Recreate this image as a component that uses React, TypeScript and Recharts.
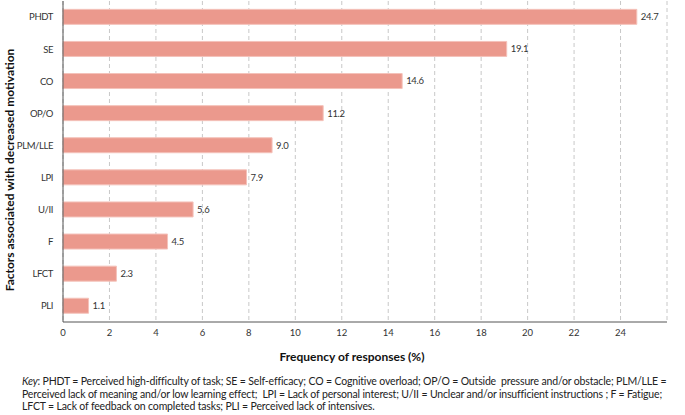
import { BarChart, Bar, XAxis, YAxis, CartesianGrid, LabelList } from 'recharts'

const factors = ['PHDT', 'SE', 'CO', 'OP/O', 'PLM/LLE', 'LPI', 'U/II', 'F', 'LFCT', 'PLI']
const frequencies = [24.7, 19.1, 14.6, 11.2, 9.0, 7.9, 5.6, 4.5, 2.3, 1.1]
const xTicks = [0, 2, 4, 6, 8, 10, 12, 14, 16, 18, 20, 22, 24]

const data = factors.map((factor, i) => ({ factor, value: frequencies[i] }))

const FONT = 'Lato, "Open Sans", sans-serif'

export default function App() {
  return (
    <div style={{ position: 'absolute', left: 0, top: 0, width: 685, height: 415, background: '#fff', fontFamily: FONT }}>
      <BarChart
        width={685}
        height={370}
        data={data}
        layout="vertical"
        margin={{ top: 1, right: 18, left: 0, bottom: 8 }}
        barCategoryGap="26%"
      >
        <CartesianGrid horizontal={false} strokeDasharray="4 3" stroke="#c8c8c8" />
        <XAxis
          type="number"
          domain={[0, 26]}
          ticks={xTicks}
          height={40}
          tickLine={false}
          tickSize={0}
          tickMargin={7}
          axisLine={{ stroke: '#555' }}
          tick={{ fontSize: 9.5, fill: '#333', fontFamily: FONT }}
        />
        <YAxis
          type="category"
          dataKey="factor"
          width={63}
          tickLine={false}
          tickSize={0}
          tickMargin={10}
          axisLine={{ stroke: '#555' }}
          tick={{ fontSize: 9.5, fill: '#333', fontFamily: FONT, letterSpacing: -0.4 }}
        />
        <Bar dataKey="value" fill="#eb998d" stroke="#f4c2ba" strokeWidth={1} isAnimationActive={false}>
          <LabelList
            dataKey="value"
            position="right"
            offset={4}
            formatter={(v: number) => v.toFixed(1)}
            style={{ fontSize: 9.5, fill: '#333', fontFamily: FONT, letterSpacing: -0.3 }}
          />
        </Bar>
      </BarChart>
      <div
        style={{
          position: 'absolute', left: 9, top: 170, transform: 'translate(-50%, -50%) rotate(-90deg)',
          whiteSpace: 'nowrap', fontWeight: 700, fontSize: 12, color: '#111',
        }}
      >
        Factors associated with decreased motivation
      </div>
      <div
        style={{
          position: 'absolute', left: 352, top: 356, transform: 'translate(-50%, -50%)',
          whiteSpace: 'nowrap', fontWeight: 700, fontSize: 12, color: '#111',
        }}
      >
        Frequency of responses (%)
      </div>
      <div
        style={{
          position: 'absolute', left: 22, top: 375, width: 665, fontSize: 10.5, lineHeight: '12.5px',
          color: '#222', letterSpacing: -0.16, whiteSpace: 'nowrap',
        }}
      >
        <i>Key</i>: PHDT = Perceived high-difficulty of task; SE = Self-efficacy; CO = Cognitive overload; OP/O = Outside&nbsp; pressure and/or obstacle; PLM/LLE =
        <br />
        Perceived lack of meaning and/or low learning effect;&nbsp; LPI = Lack of personal interest; U/II = Unclear and/or insufficient instructions ; F = Fatigue;
        <br />
        LFCT = Lack of feedback on completed tasks; PLI = Perceived lack of intensives.
      </div>
    </div>
  )
}
